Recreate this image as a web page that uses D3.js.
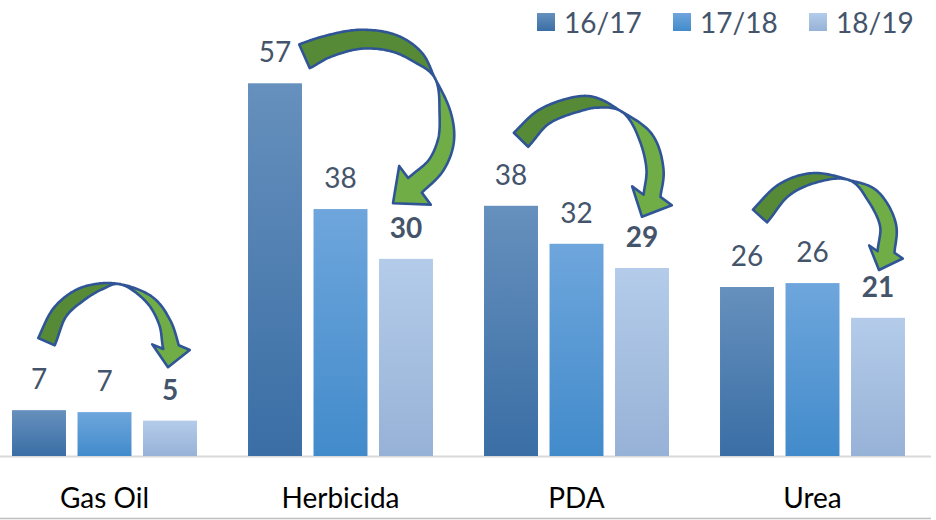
<!DOCTYPE html>
<html>
<head>
<meta charset="utf-8">
<script src="https://cdn.jsdelivr.net/npm/d3@7"></script>
<style>
  body { margin: 0; background: #fff; }
  svg { display: block; font-family: Lato, "Open Sans", sans-serif; }
</style>
</head>
<body>
<svg width="936" height="520"></svg>
<script>
// data
const categories = ["Gas Oil", "Herbicida", "PDA", "Urea"];
const series = ["16/17", "17/18", "18/19"];
const v1617 = [7.0, 56.9, 38.2, 25.8];
const v1718 = [6.7, 37.7, 32.4, 26.4];
const v1819 = [5.4, 30.1, 28.7, 21.1];
const seriesValues = [v1617, v1718, v1819];

// gradients per series (top, bottom)
const gradTop = ["#6690bd", "#6ea6dc", "#b4ccea"];
const gradBot = ["#3a6ea5", "#428bcb", "#97b2d7"];

// curved arrows: centre line as [dx from group centre, dy from top of first bar],
// band width at each point, index where the ribbon twists, tip, head half width
const arrows = [
  { pts: [[-58,-68.5],[-44.5,-98],[-24.5,-115],[-2.5,-124],[15.5,-126],[45.5,-110],[60.5,-87],[66.5,-63]],
    w: [18,15,13,6,0,8,12,16], twist: 4, tip: [63.5,-43], hw: 19 },
  { pts: [[-36,-27],[-15.5,-36],[19.5,-44],[53.5,-40],[77.5,-26],[94.5,-5],[104.5,29],[105.5,57],[95.5,82],[74.5,102]],
    w: [26,22,19,17,12,0,11,16,18,20], twist: 5, tip: [52.5,120], hw: 25 },
  { pts: [[-55.5,-66],[-32.5,-89],[2.5,-102],[19.5,-103],[45.5,-94],[69.5,-68],[78.5,-36],[75.5,-10]],
    w: [20,17,15,10,0,14,17,17], twist: 4, tip: [65.5,11], hw: 22 },
  { pts: [[-52.5,-71],[-28.5,-97],[1.5,-109],[36.5,-107],[59.5,-92],[75.5,-62],[73.5,-35]],
    w: [19,15,10,0,13,16,17], twist: 3, tip: [66.5,-17], hw: 18 }
];

const svg = d3.select("svg");
const baseY = 456;

const x0 = d3.scaleBand().domain(categories).range([-13.5, 930.5]);
const innerW = 196.5;
const x1 = d3.scaleBand().domain(series).range([0, innerW])
  .paddingInner(0.176).paddingOuter(0.088);
const y = d3.scaleLinear().domain([0, 60]).range([baseY, 63]);

const defs = svg.append("defs");
series.forEach(function (s, i) {
  const g = defs.append("linearGradient")
    .attr("id", "g" + i)
    .attr("x1", 0).attr("y1", 0).attr("x2", 0).attr("y2", 1);
  g.append("stop").attr("offset", "0%").attr("stop-color", gradTop[i]);
  g.append("stop").attr("offset", "100%").attr("stop-color", gradBot[i]);
});

// axis lines
svg.append("line")
  .attr("x1", 0).attr("x2", 931).attr("y1", baseY + 0.5).attr("y2", baseY + 0.5)
  .attr("stroke", "#d9d9d9").attr("stroke-width", 2);
svg.append("line")
  .attr("x1", 0).attr("x2", 931).attr("y1", 518.5).attr("y2", 518.5)
  .attr("stroke", "#bfbfbf").attr("stroke-width", 1.5);

const rows = [];
categories.forEach(function (c, ci) {
  series.forEach(function (s, si) {
    rows.push({ cat: c, ci: ci, s: s, si: si, v: seriesValues[si][ci] });
  });
});
const innerOff = (x0.bandwidth() - innerW) / 2;
const barX = d => x0(d.cat) + innerOff + x1(d.s);

// bars
svg.append("g").selectAll("rect")
  .data(rows)
  .enter().append("rect")
  .attr("x", barX)
  .attr("y", d => y(d.v))
  .attr("width", x1.bandwidth())
  .attr("height", d => baseY - y(d.v))
  .attr("fill", d => "url(#g" + d.si + ")");

// value labels
svg.append("g").selectAll("text")
  .data(rows)
  .enter().append("text")
  .attr("x", d => barX(d) + x1.bandwidth() / 2)
  .attr("y", d => y(d.v) - 21)
  .attr("text-anchor", "middle")
  .attr("font-size", 28)
  .attr("font-weight", d => d.si === 2 ? "bold" : "normal")
  .attr("fill", "#44546a")
  .text(d => d3.format(".0f")(d.v));

// category labels
svg.append("g").selectAll("text")
  .data(categories)
  .enter().append("text")
  .attr("x", d => x0(d) + x0.bandwidth() / 2)
  .attr("y", 508)
  .attr("text-anchor", "middle")
  .attr("font-size", 28)
  .attr("fill", "#000")
  .text(d => d);

// centripetal catmull-rom, widths follow a uniform spline
function sample(pts, ws, n) {
  const out = [];
  const L = pts.length;
  const P = i => {
    if (i < 0) return [2 * pts[0][0] - pts[1][0], 2 * pts[0][1] - pts[1][1]];
    if (i > L - 1) return [2 * pts[L - 1][0] - pts[L - 2][0], 2 * pts[L - 1][1] - pts[L - 2][1]];
    return pts[i];
  };
  const W = i => ws[Math.max(0, Math.min(L - 1, i))];
  const lerp = (a, b, ta, tb, t) => [
    ((tb - t) * a[0] + (t - ta) * b[0]) / (tb - ta),
    ((tb - t) * a[1] + (t - ta) * b[1]) / (tb - ta)];
  const dist = (a, b) => Math.sqrt(Math.hypot(b[0] - a[0], b[1] - a[1]));
  for (let i = 0; i < L - 1; i++) {
    const p0 = P(i - 1), p1 = P(i), p2 = P(i + 1), p3 = P(i + 2);
    const t0 = 0, t1 = t0 + dist(p0, p1), t2 = t1 + dist(p1, p2), t3 = t2 + dist(p2, p3);
    const w0 = W(i - 1), w1 = W(i), w2 = W(i + 1), w3 = W(i + 2);
    for (let k = 0; k < n; k++) {
      const u = k / n;
      const t = t1 + (t2 - t1) * u;
      const a1 = lerp(p0, p1, t0, t1, t), a2 = lerp(p1, p2, t1, t2, t), a3 = lerp(p2, p3, t2, t3, t);
      const b1 = lerp(a1, a2, t0, t2, t), b2 = lerp(a2, a3, t1, t3, t);
      const c = lerp(b1, b2, t1, t2, t);
      const u2 = u * u, u3 = u2 * u;
      const w = 0.5 * (2 * w1 + (-w0 + w2) * u + (2 * w0 - 5 * w1 + 4 * w2 - w3) * u2 +
        (-w0 + 3 * w1 - 3 * w2 + w3) * u3);
      out.push({ x: c[0], y: c[1], w: Math.max(0, w) });
    }
  }
  out.push({ x: pts[L - 1][0], y: pts[L - 1][1], w: ws[L - 1] });
  return out;
}

const N = 20;
const arrowG = svg.append("g");
const line = d3.line().curve(d3.curveLinearClosed);
arrows.forEach(function (a, ci) {
  const gc = x0(categories[ci]) + x0.bandwidth() / 2;
  const gy = y(v1617[ci]);
  const pts = a.pts.map(p => [gc + p[0], gy + p[1]]);
  const tip = [gc + a.tip[0], gy + a.tip[1]];
  const s = sample(pts, a.w, N);
  const left = [], right = [];
  s.forEach(function (p, k) {
    const pa = s[Math.max(k - 1, 0)], pb = s[Math.min(k + 1, s.length - 1)];
    let tx = pb.x - pa.x, ty = pb.y - pa.y;
    const len = Math.hypot(tx, ty) || 1;
    tx /= len; ty /= len;
    left.push([p.x - ty * p.w / 2, p.y + tx * p.w / 2]);
    right.push([p.x + ty * p.w / 2, p.y - tx * p.w / 2]);
  });
  const kc = a.twist * N;
  const neck = s[s.length - 1];
  let dx = tip[0] - neck.x, dy = tip[1] - neck.y;
  const dl = Math.hypot(dx, dy);
  dx /= dl; dy /= dl;
  const wingL = [neck.x - dy * a.hw, neck.y + dx * a.hw];
  const wingR = [neck.x + dy * a.hw, neck.y - dx * a.hw];

  const back = left.slice(0, kc + 1).concat(right.slice(0, kc + 1).reverse());
  const front = left.slice(kc).concat([wingL, tip, wingR])
    .concat(right.slice(kc).reverse());

  arrowG.append("path")
    .attr("d", line(front))
    .attr("fill", "#70ad47")
    .attr("stroke", "#2f5597").attr("stroke-width", 2.6)
    .attr("stroke-linejoin", "round");
  arrowG.append("path")
    .attr("d", line(back))
    .attr("fill", "#578a36")
    .attr("stroke", "#2f5597").attr("stroke-width", 2.6)
    .attr("stroke-linejoin", "round");
});

// legend
const legendX = [537, 673, 809];
const legend = svg.append("g").selectAll("g")
  .data(series)
  .enter().append("g")
  .attr("transform", (d, i) => "translate(" + legendX[i] + ",13)");
legend.append("rect")
  .attr("width", 18).attr("height", 18)
  .attr("fill", (d, i) => "url(#g" + i + ")");
legend.append("text")
  .attr("x", 27).attr("y", 20)
  .attr("font-size", 28)
  .attr("fill", "#44546a")
  .text(d => d);
</script>
</body>
</html>
